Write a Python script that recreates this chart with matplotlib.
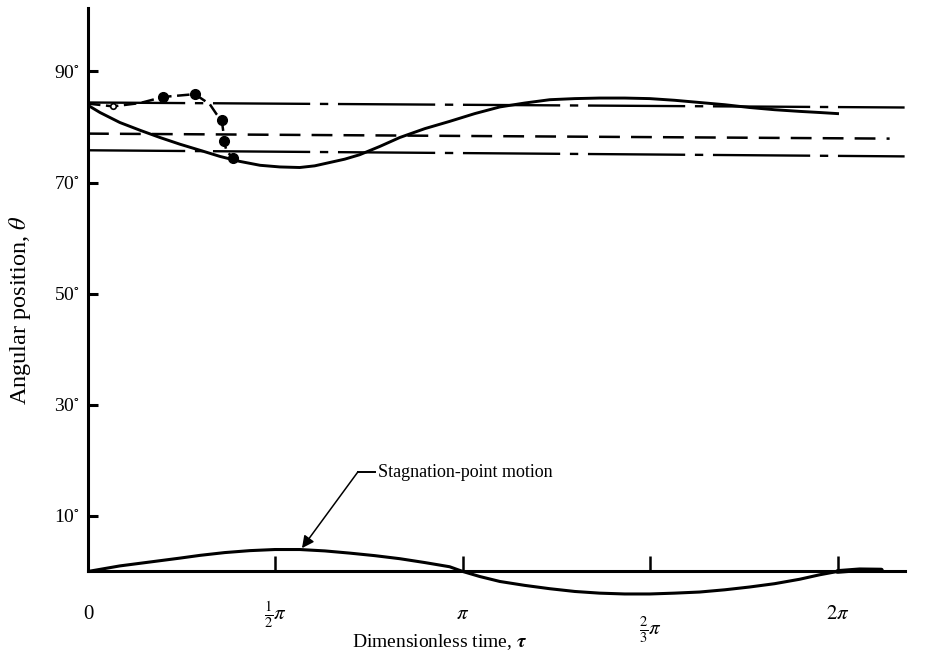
import matplotlib
matplotlib.use("Agg")
import matplotlib.pyplot as plt
import matplotlib.transforms as mtransforms

plt.rcParams['font.family'] = ['Liberation Serif', 'DejaVu Serif']
plt.rcParams['mathtext.fontset'] = 'stix'
plt.rcParams['lines.scale_dashes'] = False

# x values are in units of pi (dimensionless time / pi)
# solid curve
theta_x = [0.000, 0.032, 0.085, 0.139, 0.192, 0.245, 0.299, 0.352, 0.405, 0.459,
           0.512, 0.565, 0.605, 0.645, 0.685, 0.725, 0.779, 0.832, 0.899, 0.965,
           1.032, 1.099, 1.165, 1.232, 1.299, 1.365, 1.432, 1.499, 1.565, 1.632,
           1.699, 1.765, 1.832, 1.899, 1.952, 2.000]
theta_y = [83.9, 82.6, 80.8, 79.4, 78.1, 76.9, 75.8, 74.7, 73.8, 73.1,
           72.8, 72.7, 73.0, 73.6, 74.2, 75.0, 76.5, 78.1, 79.7, 81.0,
           82.4, 83.6, 84.3, 84.9, 85.1, 85.2, 85.2, 85.1, 84.8, 84.4,
           84.0, 83.5, 83.1, 82.8, 82.6, 82.4]

# dashed curve through the data points
dash_x = [0.000, 0.067, 0.139, 0.201, 0.285, 0.325, 0.343, 0.357, 0.361, 0.363, 0.370, 0.388]
dash_y = [84.2, 83.7, 84.3, 85.4, 85.9, 84.1, 82.3, 81.2, 79.2, 77.4, 75.6, 74.4]
pts_x = [0.201, 0.285, 0.357, 0.363, 0.388]
pts_y = [85.4, 85.9, 81.2, 77.4, 74.4]
open_x = [0.067]
open_y = [83.7]

# horizontal reference lines (start, end)
upper_x = [0.0, 2.179]
upper_y = [84.4, 83.5]
mid_x = [0.0, 2.139]
mid_y = [78.8, 77.9]
lower_x = [0.0, 2.179]
lower_y = [75.8, 74.7]

# stagnation-point motion
stag_x = [0.000, 0.085, 0.165, 0.245, 0.299, 0.365, 0.432, 0.499, 0.565, 0.632,
          0.699, 0.765, 0.832, 0.899, 0.965, 1.000, 1.045, 1.099, 1.165, 1.232,
          1.299, 1.365, 1.432, 1.499, 1.565, 1.632, 1.699, 1.765, 1.832, 1.899,
          1.952, 2.000]
stag_y = [0.0, 1.0, 1.7, 2.4, 2.9, 3.4, 3.75, 3.95, 3.95, 3.7,
          3.3, 2.85, 2.3, 1.6, 0.85, 0.0, -0.9, -1.8, -2.5, -3.1,
          -3.6, -3.9, -4.05, -4.05, -3.9, -3.7, -3.3, -2.8, -2.2, -1.4,
          -0.6, 0.0]
tail_x = [2.000, 2.059, 2.117]
tail_y = [0.0, 0.3, 0.25]

xticks = [0, 0.5, 1, 1.5, 2]
xticklabels = ['0', r'$\frac{1}{2}\pi$', r'$\pi$', r'$\frac{2}{3}\pi$', r'$2\pi$']
yticks = [10, 30, 50, 70, 90]
yticklabels = ['10$^{\circ}$', '30$^{\circ}$', '50$^{\circ}$', '70$^{\circ}$', '90$^{\circ}$']

fig = plt.figure(figsize=(9.28, 6.53), dpi=100)
ax = fig.add_axes([0.0948, 0.0738, 0.880, 0.9139])

ax.plot(theta_x, theta_y, color='black', lw=2.1)
ax.plot(dash_x, dash_y, color='black', lw=1.8, dashes=(9, 4))
ax.plot(pts_x, pts_y, 'o', color='black', ms=7)
ax.plot(open_x, open_y, 'o', color='black', ms=4, mfc='white', mew=1.2)

ax.plot(upper_x, upper_y, color='black', lw=1.7, dashes=(70, 7, 6, 7))
ax.plot(mid_x, mid_y, color='black', lw=1.8, dashes=(15, 8))
ax.plot(lower_x, lower_y, color='black', lw=1.7, dashes=(70, 7, 6, 7))

ax.plot(stag_x, stag_y, color='black', lw=2.2)
ax.plot(tail_x, tail_y, color='black', lw=3.4, solid_capstyle='round')

# annotation
ax.plot([0.72, 0.765], [17.9, 17.9], color='black', lw=1.4)
ax.annotate('', xy=(0.571, 4.2), xytext=(0.72, 17.9),
            arrowprops=dict(arrowstyle='-|>', color='black', lw=1.1,
                            mutation_scale=18, shrinkA=0, shrinkB=0))
ax.text(0.775, 17.8, 'Stagnation-point motion', fontsize=13, ha='left', va='center')

ax.set_xlim(0, 2.179)
ax.set_ylim(-6, 101.4)

for s in ['top', 'right']:
    ax.spines[s].set_visible(False)
ax.spines['bottom'].set_position(('data', 0))
ax.spines['left'].set_bounds(0, 101.4)
ax.spines['left'].set_linewidth(2.2)
ax.spines['bottom'].set_linewidth(2.2)

ax.set_xticks(xticks)
ax.set_xticklabels(xticklabels, fontsize=15)
ax.set_yticks(yticks)
ax.set_yticklabels(yticklabels, fontsize=14)
ax.tick_params(axis='x', direction='in', length=11, width=1.8, pad=24)
ax.tick_params(axis='y', direction='in', length=7, width=2.2, pad=6)
ax.xaxis.get_major_ticks()[0].tick1line.set_visible(False)

# fraction labels sit a little higher; the 2/3 pi label hangs lower
shifts = {1: 4.3, 3: -7.0}
for i, dy in shifts.items():
    lbl = ax.get_xticklabels()[i]
    lbl.set_transform(lbl.get_transform() + mtransforms.ScaledTranslation(0, dy / 72, fig.dpi_scale_trans))

ax.set_xlabel(r'Dimensionless time, $\boldsymbol{\tau}$', fontsize=14)
ax.xaxis.set_label_coords(0.431, -0.046)
ax.set_ylabel(r'Angular position, $\theta$', fontsize=17.5)
ax.yaxis.set_label_coords(-0.067, 0.494)

fig.savefig('out.png', dpi=100)
